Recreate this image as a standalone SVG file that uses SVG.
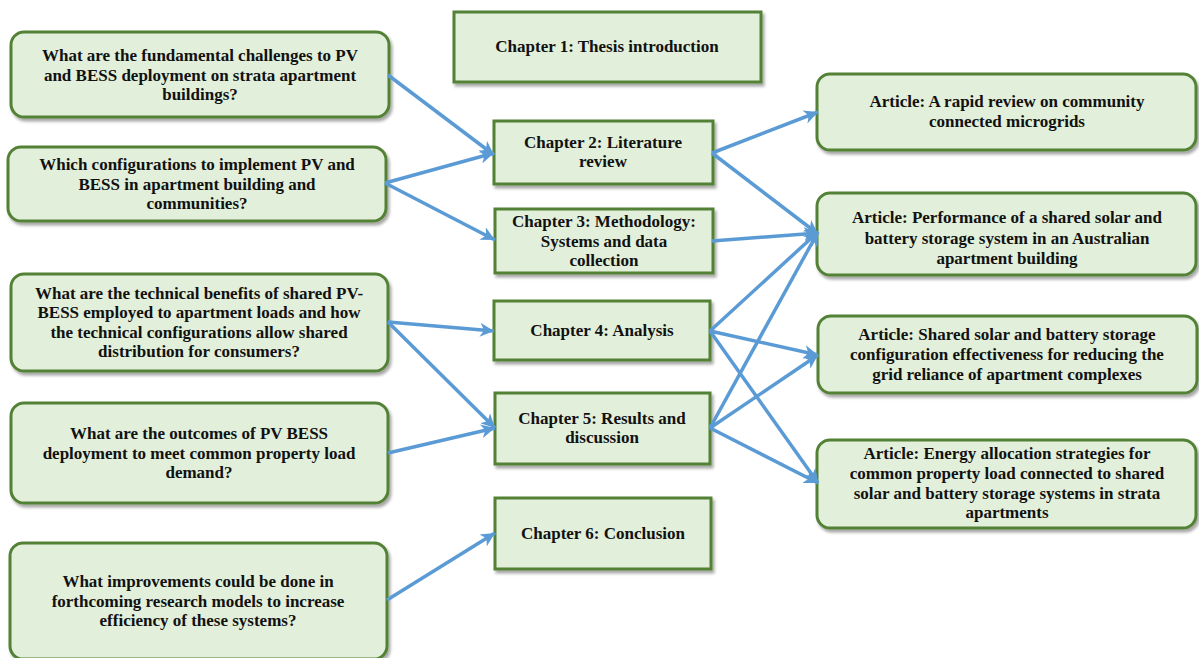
<svg xmlns="http://www.w3.org/2000/svg" width="1199" height="658" viewBox="0 0 1199 658">
<defs>
<filter id="sh" x="-10%" y="-10%" width="125%" height="130%">
<feDropShadow dx="2" dy="3" stdDeviation="1.5" flood-color="#000" flood-opacity="0.35"/>
</filter>
<marker id="ah" markerUnits="userSpaceOnUse" markerWidth="16" markerHeight="14" refX="14" refY="7" orient="auto">
<path d="M0,0 L14,7 L0,14 L4,7 Z" fill="#5B9BD5"/>
</marker>
<style>
.box{fill:#E2EFDA;stroke:#538135;stroke-width:3;filter:url(#sh)}
.t{font-family:"Liberation Serif",serif;font-weight:bold;font-size:17px;fill:#111;text-anchor:middle}
.c{fill:none;stroke:#5B9BD5;stroke-width:3.5;marker-end:url(#ah)}
</style>
</defs>
<rect width="1199" height="658" fill="#fff"/>

<g id="q1"><rect class="box" x="11" y="32" width="378" height="85" rx="13"/>
<text class="t"><tspan x="200" y="61">What are the fundamental challenges to PV</tspan><tspan x="200" y="81">and BESS deployment on strata apartment</tspan><tspan x="200" y="100">buildings?</tspan></text></g>
<g id="q2"><rect class="box" x="8" y="147" width="378" height="74" rx="13"/>
<text class="t"><tspan x="197" y="170">Which configurations to implement PV and</tspan><tspan x="197" y="190">BESS in apartment building and</tspan><tspan x="197" y="209">communities?</tspan></text></g>
<g id="q3"><rect class="box" x="11" y="274" width="377" height="97" rx="13"/>
<text class="t"><tspan x="199" y="299">What are the technical benefits of shared PV-</tspan><tspan x="199" y="318">BESS employed to apartment loads and how</tspan><tspan x="199" y="338">the technical configurations allow shared</tspan><tspan x="199" y="357">distribution for consumers?</tspan></text></g>
<g id="q4"><rect class="box" x="11" y="403" width="377" height="100" rx="13"/>
<text class="t"><tspan x="199" y="439">What are the outcomes of PV BESS</tspan><tspan x="199" y="459">deployment to meet common property load</tspan><tspan x="199" y="478">demand?</tspan></text></g>
<g id="q5"><rect class="box" x="10" y="543" width="377" height="116" rx="13"/>
<text class="t"><tspan x="198" y="587">What improvements could be done in</tspan><tspan x="198" y="607">forthcoming research models to increase</tspan><tspan x="198" y="626">efficiency of these systems?</tspan></text></g>

<g id="ch1"><rect class="box" x="454" y="12" width="307" height="70"/>
<text class="t"><tspan x="607" y="52">Chapter 1: Thesis introduction</tspan></text></g>
<g id="ch2"><rect class="box" x="494" y="121" width="219" height="63"/>
<text class="t"><tspan x="603" y="148">Chapter 2: Literature</tspan><tspan x="603" y="167">review</tspan></text></g>
<g id="ch3"><rect class="box" x="495" y="209" width="218" height="64"/>
<text class="t"><tspan x="604" y="227">Chapter 3: Methodology:</tspan><tspan x="604" y="247">Systems and data</tspan><tspan x="604" y="266">collection</tspan></text></g>
<g id="ch4"><rect class="box" x="494" y="301" width="216" height="59"/>
<text class="t"><tspan x="602" y="336">Chapter 4: Analysis</tspan></text></g>
<g id="ch5"><rect class="box" x="495" y="393" width="215" height="71"/>
<text class="t"><tspan x="602" y="424">Chapter 5: Results and</tspan><tspan x="602" y="443">discussion</tspan></text></g>
<g id="ch6"><rect class="box" x="495" y="498" width="216" height="71"/>
<text class="t"><tspan x="603" y="539">Chapter 6: Conclusion</tspan></text></g>

<g id="a1"><rect class="box" x="817" y="74" width="379" height="76" rx="13"/>
<text class="t"><tspan x="1007" y="107">Article: A rapid review on community</tspan><tspan x="1007" y="127">connected microgrids</tspan></text></g>
<g id="a2"><rect class="box" x="817" y="193" width="379" height="82" rx="13"/>
<text class="t"><tspan x="1007" y="223">Article: Performance of a shared solar and</tspan><tspan x="1007" y="244">battery storage system in an Australian</tspan><tspan x="1007" y="264">apartment building</tspan></text></g>
<g id="a3"><rect class="box" x="818" y="316" width="379" height="77" rx="13"/>
<text class="t"><tspan x="1007" y="340">Article: Shared solar and battery storage</tspan><tspan x="1007" y="360">configuration effectiveness for reducing the</tspan><tspan x="1007" y="380">grid reliance of apartment complexes</tspan></text></g>
<g id="a4"><rect class="box" x="817" y="440" width="379" height="88" rx="13"/>
<text class="t"><tspan x="1007" y="459">Article: Energy allocation strategies for</tspan><tspan x="1007" y="479">common property load connected to shared</tspan><tspan x="1007" y="499">solar and battery storage systems in strata</tspan><tspan x="1007" y="518">apartments</tspan></text></g>

<g id="connectors">
<line class="c" x1="388" y1="75" x2="494" y2="155"/>
<line class="c" x1="385" y1="183" x2="494" y2="153"/>
<line class="c" x1="385" y1="183" x2="495" y2="240"/>
<line class="c" x1="388" y1="322" x2="494" y2="331"/>
<line class="c" x1="388" y1="322" x2="495" y2="428"/>
<line class="c" x1="388" y1="453" x2="495" y2="428"/>
<line class="c" x1="387" y1="600" x2="495" y2="533"/>
<line class="c" x1="712" y1="153" x2="818" y2="112"/>
<line class="c" x1="712" y1="153" x2="818" y2="234"/>
<line class="c" x1="712" y1="241" x2="818" y2="233"/>
<line class="c" x1="710" y1="331" x2="818" y2="232"/>
<line class="c" x1="710" y1="428" x2="818" y2="232"/>
<line class="c" x1="710" y1="331" x2="818" y2="355"/>
<line class="c" x1="710" y1="331" x2="818" y2="483"/>
<line class="c" x1="710" y1="428" x2="818" y2="355"/>
<line class="c" x1="710" y1="428" x2="818" y2="483"/>
</g>
</svg>
